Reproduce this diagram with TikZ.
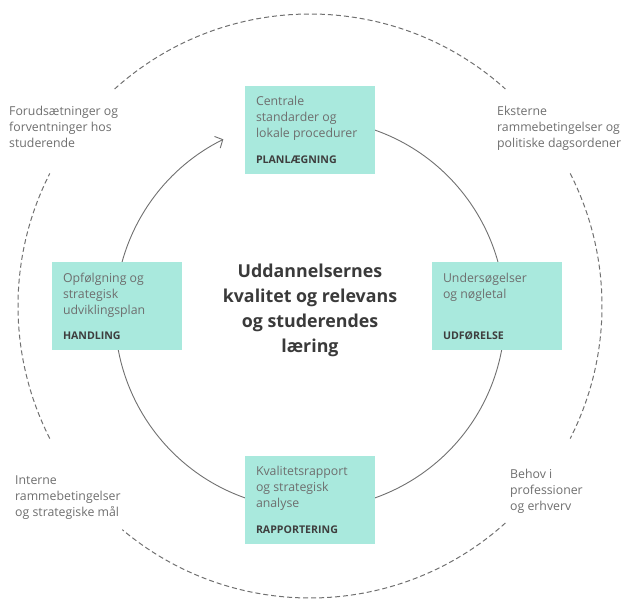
\documentclass[tikz,border=0pt]{standalone}
\usepackage{fontspec}
\setmainfont{Open Sans}
\usetikzlibrary{arrows.meta,positioning}
\definecolor{mint}{HTML}{A9E9DD}
\definecolor{bodygray}{HTML}{6E6E6E}
\definecolor{labelgray}{HTML}{3E3E3E}
\definecolor{titlegray}{HTML}{3A3A3A}
\definecolor{linegray}{HTML}{707070}
\tikzset{
  stagebox/.style={rectangle, fill=mint, minimum width=130pt, minimum height=88pt, inner sep=0pt},
  stagetext/.style={anchor=north west, align=left, inner sep=0pt, text=bodygray, font=\fontsize{12.3}{16}\selectfont},
  stagelabel/.style={inner sep=0pt, text=labelgray, font=\fontsize{10.6}{12}\selectfont\bfseries},
  sidetext/.style={anchor=north west, align=left, inner sep=0pt, text=bodygray, font=\fontsize{12.3}{16}\selectfont},
  cycleline/.style={draw=linegray, line width=0.9pt},
  frameline/.style={draw=linegray, line width=1pt, dash pattern=on 5pt off 3pt},
}
\begin{document}
\begin{tikzpicture}[x=1pt,y=-1pt]
  \useasboundingbox (0,0) rectangle (630,601);
  % centres of the two circles
  \coordinate (hub) at (310,314);
  \coordinate (rim) at (310,306);

  % outer dashed frame, four arcs
  \draw[frameline] (rim) ++(-132:292) arc[start angle=-132, end angle=-48, radius=292];
  \draw[frameline] (rim) ++(-27:292) arc[start angle=-27, end angle=27, radius=292];
  \draw[frameline] (rim) ++(48:292) arc[start angle=48, end angle=130, radius=292];
  \draw[frameline] (rim) ++(153:292) arc[start angle=153, end angle=207, radius=292];

  % inner cycle with arrow
  \draw[cycleline, -{Straight Barb[length=6pt,width=13pt]}]
    (hub) ++(-80:195) arc[start angle=-80, end angle=243.6, radius=195];

  % stages
  \node[stagebox] (plan) at (310,130) {};
  \node[stagebox] (exec) at (497,306) {};
  \node[stagebox] (report) at (310,500) {};
  \node[stagebox] (act) at (117,306) {};

  \node[stagetext, below right=10pt and 11pt of plan.north west] (plantext)
    {Centrale\\standarder og\\lokale procedurer};
  \node[stagelabel, above right=10pt and 11pt of plan.south west] (planlabel) {PLANLÆGNING};

  \node[stagetext, below right=11pt and 11pt of exec.north west] (exectext)
    {Undersøgelser\\og nøgletal};
  \node[stagelabel, above right=10pt and 11pt of exec.south west] (execlabel) {UDFØRELSE};

  \node[stagetext, below right=10pt and 11pt of report.north west] (reporttext)
    {Kvalitetsrapport\\og strategisk\\analyse};
  \node[stagelabel, above right=10pt and 11pt of report.south west] (reportlabel) {RAPPORTERING};

  \node[stagetext, below right=11pt and 11pt of act.north west] (acttext)
    {Opfølgning og\\strategisk\\udviklingsplan};
  \node[stagelabel, above right=10pt and 11pt of act.south west] (actlabel) {HANDLING};

  % centre title
  \node[align=center, inner sep=0pt, text=titlegray, font=\fontsize{17.8}{25}\selectfont\bfseries] (title)
    at (310,310) {Uddannelsernes\\kvalitet og relevans\\og studerendes\\læring};

  % conditions round the frame
  \node[sidetext] (students) at (9,106) {Forudsætninger og\\forventninger hos\\studerende};
  \node[sidetext] (external) at (497,106) {Eksterne\\rammebetingelser og\\politiske dagsordener};
  \node[sidetext] (internal) at (15,476) {Interne\\rammebetingelser\\og strategiske mål};
  \node[sidetext] (needs) at (510,469) {Behov i\\professioner\\og erhverv};
\end{tikzpicture}
\end{document}
